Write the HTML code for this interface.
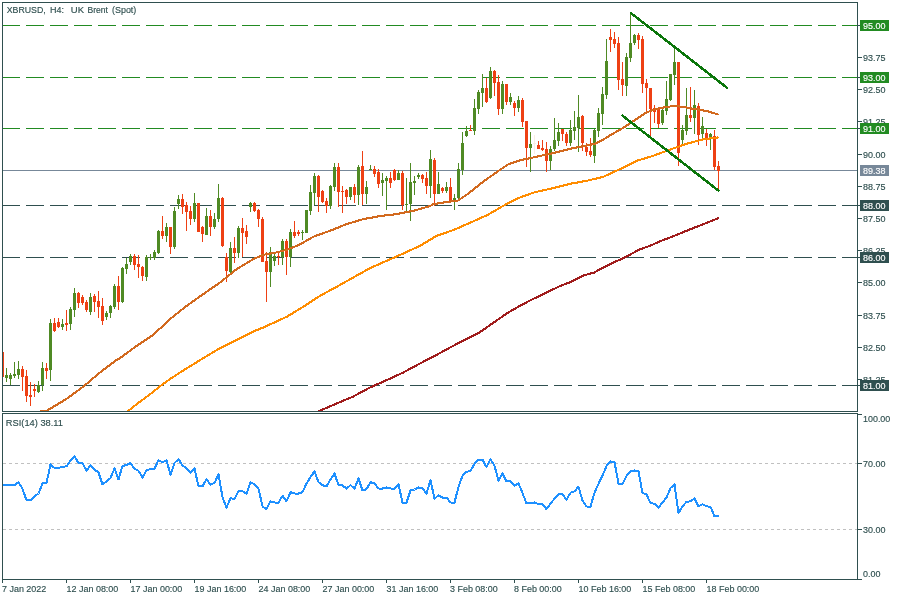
<!DOCTYPE html>
<html lang="en"><head><meta charset="utf-8"><title>XBRUSD, H4: UK Brent (Spot)</title>
<style>html,body{margin:0;padding:0;background:#fff;width:900px;height:600px;overflow:hidden}svg{display:block}text{font-family:"Liberation Sans",Arial,sans-serif;font-size:9.5px;fill:#2F4F4F;stroke:#2F4F4F;stroke-width:.15px}</style></head><body>
<svg width="900" height="600" viewBox="0 0 900 600">
<rect x="0" y="0" width="900" height="600" fill="#fff"/>
<defs><clipPath id="cm"><rect x="3" y="3" width="854" height="408"/></clipPath><clipPath id="cr"><rect x="3" y="414" width="854" height="165"/></clipPath></defs>
<g clip-path="url(#cm)">
<line x1="2" y1="25.5" x2="858" y2="25.5" stroke="#228B22" stroke-width="1" stroke-dasharray="17.5 6.5" shape-rendering="crispEdges"/>
<line x1="2" y1="77.5" x2="858" y2="77.5" stroke="#228B22" stroke-width="1" stroke-dasharray="17.5 6.5" shape-rendering="crispEdges"/>
<line x1="2" y1="128.5" x2="858" y2="128.5" stroke="#228B22" stroke-width="1" stroke-dasharray="17.5 6.5" shape-rendering="crispEdges"/>
<line x1="2" y1="205.5" x2="858" y2="205.5" stroke="#2F4F4F" stroke-width="1" stroke-dasharray="17.5 6.5" shape-rendering="crispEdges"/>
<line x1="2" y1="257.5" x2="858" y2="257.5" stroke="#2F4F4F" stroke-width="1" stroke-dasharray="17.5 6.5" shape-rendering="crispEdges"/>
<line x1="2" y1="385.5" x2="858" y2="385.5" stroke="#2F4F4F" stroke-width="1" stroke-dasharray="17.5 6.5" shape-rendering="crispEdges"/>
<line x1="2" y1="170.5" x2="858" y2="170.5" stroke="#778899" stroke-width="1" shape-rendering="crispEdges"/>
<g shape-rendering="crispEdges">
<rect x="2" y="352" width="1" height="25" fill="#EE4014"/>
<rect x="1" y="352" width="3" height="25" fill="#EE4014"/>
<rect x="6" y="368" width="1" height="14" fill="#4F8A24"/>
<rect x="5" y="375" width="3" height="3" fill="#4F8A24"/>
<rect x="10" y="373" width="1" height="12" fill="#4F8A24"/>
<rect x="9" y="375" width="3" height="4" fill="#4F8A24"/>
<rect x="14" y="362" width="1" height="16" fill="#4F8A24"/>
<rect x="13" y="374" width="3" height="2" fill="#4F8A24"/>
<rect x="18" y="361" width="1" height="18" fill="#4F8A24"/>
<rect x="17" y="369" width="3" height="6" fill="#4F8A24"/>
<rect x="22" y="366" width="1" height="25" fill="#EE4014"/>
<rect x="21" y="369" width="3" height="8" fill="#EE4014"/>
<rect x="26" y="370" width="1" height="32" fill="#EE4014"/>
<rect x="25" y="376" width="3" height="20" fill="#EE4014"/>
<rect x="30" y="382" width="1" height="24" fill="#EE4014"/>
<rect x="29" y="395" width="3" height="2" fill="#EE4014"/>
<rect x="34" y="384" width="1" height="13" fill="#EE4014"/>
<rect x="33" y="389" width="3" height="2" fill="#EE4014"/>
<rect x="38" y="381" width="1" height="12" fill="#4F8A24"/>
<rect x="37" y="385" width="3" height="7" fill="#4F8A24"/>
<rect x="42" y="362" width="1" height="29" fill="#4F8A24"/>
<rect x="41" y="368" width="3" height="17" fill="#4F8A24"/>
<rect x="46" y="363" width="1" height="16" fill="#EE4014"/>
<rect x="45" y="368" width="3" height="3" fill="#EE4014"/>
<rect x="50" y="319" width="1" height="62" fill="#4F8A24"/>
<rect x="49" y="323" width="3" height="47" fill="#4F8A24"/>
<rect x="54" y="318" width="1" height="14" fill="#EE4014"/>
<rect x="53" y="323" width="3" height="8" fill="#EE4014"/>
<rect x="58" y="318" width="1" height="10" fill="#EE4014"/>
<rect x="57" y="322" width="3" height="5" fill="#EE4014"/>
<rect x="62" y="319" width="1" height="11" fill="#4F8A24"/>
<rect x="61" y="324" width="3" height="3" fill="#4F8A24"/>
<rect x="66" y="310" width="1" height="21" fill="#EE4014"/>
<rect x="65" y="323" width="3" height="2" fill="#EE4014"/>
<rect x="70" y="307" width="1" height="23" fill="#4F8A24"/>
<rect x="69" y="309" width="3" height="15" fill="#4F8A24"/>
<rect x="74" y="288" width="1" height="29" fill="#4F8A24"/>
<rect x="73" y="293" width="3" height="17" fill="#4F8A24"/>
<rect x="78" y="292" width="1" height="16" fill="#EE4014"/>
<rect x="77" y="293" width="3" height="10" fill="#EE4014"/>
<rect x="82" y="295" width="1" height="10" fill="#EE4014"/>
<rect x="81" y="297" width="3" height="6" fill="#EE4014"/>
<rect x="86" y="300" width="1" height="12" fill="#EE4014"/>
<rect x="85" y="302" width="3" height="8" fill="#EE4014"/>
<rect x="90" y="293" width="1" height="22" fill="#4F8A24"/>
<rect x="89" y="297" width="3" height="15" fill="#4F8A24"/>
<rect x="94" y="294" width="1" height="18" fill="#EE4014"/>
<rect x="93" y="296" width="3" height="6" fill="#EE4014"/>
<rect x="98" y="291" width="1" height="27" fill="#EE4014"/>
<rect x="97" y="301" width="3" height="6" fill="#EE4014"/>
<rect x="102" y="298" width="1" height="27" fill="#EE4014"/>
<rect x="101" y="306" width="3" height="15" fill="#EE4014"/>
<rect x="106" y="311" width="1" height="9" fill="#4F8A24"/>
<rect x="105" y="313" width="3" height="4" fill="#4F8A24"/>
<rect x="110" y="305" width="1" height="13" fill="#4F8A24"/>
<rect x="109" y="306" width="3" height="7" fill="#4F8A24"/>
<rect x="114" y="284" width="1" height="25" fill="#4F8A24"/>
<rect x="113" y="286" width="3" height="21" fill="#4F8A24"/>
<rect x="118" y="276" width="1" height="34" fill="#EE4014"/>
<rect x="117" y="286" width="3" height="16" fill="#EE4014"/>
<rect x="122" y="267" width="1" height="36" fill="#4F8A24"/>
<rect x="121" y="268" width="3" height="34" fill="#4F8A24"/>
<rect x="126" y="258" width="1" height="16" fill="#4F8A24"/>
<rect x="125" y="264" width="3" height="5" fill="#4F8A24"/>
<rect x="130" y="254" width="1" height="11" fill="#4F8A24"/>
<rect x="129" y="256" width="3" height="6" fill="#4F8A24"/>
<rect x="134" y="254" width="1" height="16" fill="#EE4014"/>
<rect x="133" y="256" width="3" height="9" fill="#EE4014"/>
<rect x="138" y="255" width="1" height="23" fill="#EE4014"/>
<rect x="137" y="264" width="3" height="3" fill="#EE4014"/>
<rect x="142" y="266" width="1" height="15" fill="#EE4014"/>
<rect x="141" y="267" width="3" height="9" fill="#EE4014"/>
<rect x="146" y="255" width="1" height="26" fill="#4F8A24"/>
<rect x="145" y="257" width="3" height="20" fill="#4F8A24"/>
<rect x="150" y="254" width="1" height="6" fill="#4F8A24"/>
<rect x="149" y="257" width="3" height="1" fill="#4F8A24"/>
<rect x="154" y="250" width="1" height="10" fill="#4F8A24"/>
<rect x="153" y="252" width="3" height="6" fill="#4F8A24"/>
<rect x="158" y="230" width="1" height="24" fill="#4F8A24"/>
<rect x="157" y="231" width="3" height="22" fill="#4F8A24"/>
<rect x="162" y="216" width="1" height="23" fill="#EE4014"/>
<rect x="161" y="231" width="3" height="5" fill="#EE4014"/>
<rect x="166" y="223" width="1" height="19" fill="#4F8A24"/>
<rect x="165" y="227" width="3" height="9" fill="#4F8A24"/>
<rect x="170" y="227" width="1" height="27" fill="#EE4014"/>
<rect x="169" y="227" width="3" height="20" fill="#EE4014"/>
<rect x="174" y="207" width="1" height="42" fill="#4F8A24"/>
<rect x="173" y="211" width="3" height="36" fill="#4F8A24"/>
<rect x="178" y="195" width="1" height="14" fill="#4F8A24"/>
<rect x="177" y="199" width="3" height="5" fill="#4F8A24"/>
<rect x="182" y="194" width="1" height="20" fill="#EE4014"/>
<rect x="181" y="199" width="3" height="8" fill="#EE4014"/>
<rect x="186" y="202" width="1" height="29" fill="#EE4014"/>
<rect x="185" y="205" width="3" height="7" fill="#EE4014"/>
<rect x="190" y="206" width="1" height="19" fill="#EE4014"/>
<rect x="189" y="211" width="3" height="8" fill="#EE4014"/>
<rect x="194" y="193" width="1" height="29" fill="#4F8A24"/>
<rect x="193" y="203" width="3" height="16" fill="#4F8A24"/>
<rect x="198" y="203" width="1" height="29" fill="#EE4014"/>
<rect x="197" y="203" width="3" height="29" fill="#EE4014"/>
<rect x="202" y="226" width="1" height="16" fill="#EE4014"/>
<rect x="201" y="227" width="3" height="7" fill="#EE4014"/>
<rect x="206" y="208" width="1" height="27" fill="#4F8A24"/>
<rect x="205" y="216" width="3" height="19" fill="#4F8A24"/>
<rect x="210" y="210" width="1" height="26" fill="#EE4014"/>
<rect x="209" y="216" width="3" height="11" fill="#EE4014"/>
<rect x="214" y="213" width="1" height="16" fill="#4F8A24"/>
<rect x="213" y="219" width="3" height="8" fill="#4F8A24"/>
<rect x="218" y="184" width="1" height="38" fill="#4F8A24"/>
<rect x="217" y="198" width="3" height="21" fill="#4F8A24"/>
<rect x="222" y="197" width="1" height="50" fill="#EE4014"/>
<rect x="221" y="198" width="3" height="48" fill="#EE4014"/>
<rect x="226" y="253" width="1" height="29" fill="#EE4014"/>
<rect x="225" y="257" width="3" height="14" fill="#EE4014"/>
<rect x="230" y="242" width="1" height="31" fill="#4F8A24"/>
<rect x="229" y="248" width="3" height="24" fill="#4F8A24"/>
<rect x="234" y="237" width="1" height="26" fill="#EE4014"/>
<rect x="233" y="248" width="3" height="5" fill="#EE4014"/>
<rect x="238" y="226" width="1" height="32" fill="#4F8A24"/>
<rect x="237" y="228" width="3" height="25" fill="#4F8A24"/>
<rect x="242" y="218" width="1" height="39" fill="#EE4014"/>
<rect x="241" y="228" width="3" height="5" fill="#EE4014"/>
<rect x="246" y="225" width="1" height="19" fill="#EE4014"/>
<rect x="245" y="231" width="3" height="6" fill="#EE4014"/>
<rect x="250" y="202" width="1" height="10" fill="#4F8A24"/>
<rect x="249" y="203" width="3" height="4" fill="#4F8A24"/>
<rect x="254" y="202" width="1" height="10" fill="#EE4014"/>
<rect x="253" y="203" width="3" height="8" fill="#EE4014"/>
<rect x="258" y="209" width="1" height="18" fill="#EE4014"/>
<rect x="257" y="210" width="3" height="9" fill="#EE4014"/>
<rect x="262" y="217" width="1" height="45" fill="#EE4014"/>
<rect x="261" y="219" width="3" height="43" fill="#EE4014"/>
<rect x="266" y="252" width="1" height="50" fill="#EE4014"/>
<rect x="265" y="261" width="3" height="11" fill="#EE4014"/>
<rect x="270" y="247" width="1" height="40" fill="#4F8A24"/>
<rect x="269" y="252" width="3" height="20" fill="#4F8A24"/>
<rect x="274" y="252" width="1" height="14" fill="#4F8A24"/>
<rect x="273" y="256" width="3" height="5" fill="#4F8A24"/>
<rect x="278" y="252" width="1" height="13" fill="#EE4014"/>
<rect x="277" y="256" width="3" height="1" fill="#EE4014"/>
<rect x="282" y="239" width="1" height="26" fill="#4F8A24"/>
<rect x="281" y="241" width="3" height="16" fill="#4F8A24"/>
<rect x="286" y="239" width="1" height="36" fill="#EE4014"/>
<rect x="285" y="241" width="3" height="16" fill="#EE4014"/>
<rect x="290" y="229" width="1" height="38" fill="#4F8A24"/>
<rect x="289" y="232" width="3" height="25" fill="#4F8A24"/>
<rect x="294" y="221" width="1" height="17" fill="#EE4014"/>
<rect x="293" y="232" width="3" height="4" fill="#EE4014"/>
<rect x="298" y="230" width="1" height="6" fill="#EE4014"/>
<rect x="297" y="232" width="3" height="2" fill="#EE4014"/>
<rect x="302" y="230" width="1" height="10" fill="#4F8A24"/>
<rect x="301" y="232" width="3" height="1" fill="#4F8A24"/>
<rect x="306" y="210" width="1" height="23" fill="#4F8A24"/>
<rect x="305" y="210" width="3" height="23" fill="#4F8A24"/>
<rect x="310" y="185" width="1" height="30" fill="#4F8A24"/>
<rect x="309" y="192" width="3" height="19" fill="#4F8A24"/>
<rect x="314" y="173" width="1" height="32" fill="#4F8A24"/>
<rect x="313" y="176" width="3" height="17" fill="#4F8A24"/>
<rect x="318" y="175" width="1" height="37" fill="#EE4014"/>
<rect x="317" y="176" width="3" height="21" fill="#EE4014"/>
<rect x="322" y="190" width="1" height="13" fill="#EE4014"/>
<rect x="321" y="191" width="3" height="11" fill="#EE4014"/>
<rect x="326" y="198" width="1" height="15" fill="#EE4014"/>
<rect x="325" y="201" width="3" height="5" fill="#EE4014"/>
<rect x="330" y="185" width="1" height="24" fill="#4F8A24"/>
<rect x="329" y="186" width="3" height="20" fill="#4F8A24"/>
<rect x="334" y="163" width="1" height="28" fill="#4F8A24"/>
<rect x="333" y="167" width="3" height="20" fill="#4F8A24"/>
<rect x="338" y="163" width="1" height="44" fill="#EE4014"/>
<rect x="337" y="167" width="3" height="25" fill="#EE4014"/>
<rect x="342" y="186" width="1" height="27" fill="#EE4014"/>
<rect x="341" y="191" width="3" height="1" fill="#EE4014"/>
<rect x="346" y="189" width="1" height="15" fill="#EE4014"/>
<rect x="345" y="190" width="3" height="7" fill="#EE4014"/>
<rect x="350" y="187" width="1" height="13" fill="#4F8A24"/>
<rect x="349" y="187" width="3" height="10" fill="#4F8A24"/>
<rect x="354" y="184" width="1" height="19" fill="#EE4014"/>
<rect x="353" y="187" width="3" height="8" fill="#EE4014"/>
<rect x="358" y="165" width="1" height="40" fill="#4F8A24"/>
<rect x="357" y="167" width="3" height="28" fill="#4F8A24"/>
<rect x="362" y="151" width="1" height="54" fill="#EE4014"/>
<rect x="361" y="166" width="3" height="28" fill="#EE4014"/>
<rect x="366" y="181" width="1" height="23" fill="#4F8A24"/>
<rect x="365" y="187" width="3" height="7" fill="#4F8A24"/>
<rect x="370" y="165" width="1" height="5" fill="#4F8A24"/>
<rect x="369" y="169" width="3" height="1" fill="#4F8A24"/>
<rect x="374" y="166" width="1" height="11" fill="#EE4014"/>
<rect x="373" y="169" width="3" height="5" fill="#EE4014"/>
<rect x="378" y="169" width="1" height="19" fill="#EE4014"/>
<rect x="377" y="172" width="3" height="12" fill="#EE4014"/>
<rect x="382" y="173" width="1" height="23" fill="#4F8A24"/>
<rect x="381" y="180" width="3" height="3" fill="#4F8A24"/>
<rect x="386" y="176" width="1" height="34" fill="#4F8A24"/>
<rect x="385" y="178" width="3" height="3" fill="#4F8A24"/>
<rect x="390" y="172" width="1" height="16" fill="#EE4014"/>
<rect x="389" y="178" width="3" height="5" fill="#EE4014"/>
<rect x="394" y="169" width="1" height="12" fill="#EE4014"/>
<rect x="393" y="170" width="3" height="10" fill="#EE4014"/>
<rect x="398" y="170" width="1" height="10" fill="#4F8A24"/>
<rect x="397" y="173" width="3" height="7" fill="#4F8A24"/>
<rect x="402" y="171" width="1" height="39" fill="#EE4014"/>
<rect x="401" y="173" width="3" height="32" fill="#EE4014"/>
<rect x="406" y="178" width="1" height="33" fill="#4F8A24"/>
<rect x="405" y="204" width="3" height="1" fill="#4F8A24"/>
<rect x="410" y="163" width="1" height="58" fill="#4F8A24"/>
<rect x="409" y="182" width="3" height="22" fill="#4F8A24"/>
<rect x="414" y="176" width="1" height="19" fill="#4F8A24"/>
<rect x="413" y="181" width="3" height="2" fill="#4F8A24"/>
<rect x="418" y="173" width="1" height="6" fill="#4F8A24"/>
<rect x="417" y="175" width="3" height="2" fill="#4F8A24"/>
<rect x="422" y="174" width="1" height="9" fill="#EE4014"/>
<rect x="421" y="175" width="3" height="4" fill="#EE4014"/>
<rect x="426" y="172" width="1" height="22" fill="#EE4014"/>
<rect x="425" y="178" width="3" height="8" fill="#EE4014"/>
<rect x="430" y="150" width="1" height="48" fill="#4F8A24"/>
<rect x="429" y="159" width="3" height="27" fill="#4F8A24"/>
<rect x="434" y="158" width="1" height="48" fill="#EE4014"/>
<rect x="433" y="160" width="3" height="34" fill="#EE4014"/>
<rect x="438" y="172" width="1" height="22" fill="#4F8A24"/>
<rect x="437" y="184" width="3" height="10" fill="#4F8A24"/>
<rect x="442" y="187" width="1" height="6" fill="#EE4014"/>
<rect x="441" y="188" width="3" height="3" fill="#EE4014"/>
<rect x="446" y="182" width="1" height="11" fill="#4F8A24"/>
<rect x="445" y="187" width="3" height="4" fill="#4F8A24"/>
<rect x="450" y="178" width="1" height="25" fill="#EE4014"/>
<rect x="449" y="187" width="3" height="14" fill="#EE4014"/>
<rect x="454" y="194" width="1" height="16" fill="#4F8A24"/>
<rect x="453" y="198" width="3" height="3" fill="#4F8A24"/>
<rect x="458" y="163" width="1" height="36" fill="#4F8A24"/>
<rect x="457" y="169" width="3" height="29" fill="#4F8A24"/>
<rect x="462" y="132" width="1" height="43" fill="#4F8A24"/>
<rect x="461" y="143" width="3" height="27" fill="#4F8A24"/>
<rect x="466" y="126" width="1" height="11" fill="#4F8A24"/>
<rect x="465" y="131" width="3" height="5" fill="#4F8A24"/>
<rect x="470" y="125" width="1" height="6" fill="#EE4014"/>
<rect x="469" y="130" width="3" height="1" fill="#EE4014"/>
<rect x="474" y="99" width="1" height="36" fill="#4F8A24"/>
<rect x="473" y="108" width="3" height="23" fill="#4F8A24"/>
<rect x="478" y="90" width="1" height="24" fill="#4F8A24"/>
<rect x="477" y="92" width="3" height="17" fill="#4F8A24"/>
<rect x="482" y="74" width="1" height="33" fill="#4F8A24"/>
<rect x="481" y="88" width="3" height="5" fill="#4F8A24"/>
<rect x="486" y="78" width="1" height="25" fill="#EE4014"/>
<rect x="485" y="88" width="3" height="14" fill="#EE4014"/>
<rect x="490" y="67" width="1" height="32" fill="#4F8A24"/>
<rect x="489" y="71" width="3" height="27" fill="#4F8A24"/>
<rect x="494" y="70" width="1" height="26" fill="#EE4014"/>
<rect x="493" y="71" width="3" height="12" fill="#EE4014"/>
<rect x="498" y="75" width="1" height="40" fill="#EE4014"/>
<rect x="497" y="82" width="3" height="27" fill="#EE4014"/>
<rect x="502" y="81" width="1" height="33" fill="#4F8A24"/>
<rect x="501" y="84" width="3" height="25" fill="#4F8A24"/>
<rect x="506" y="84" width="1" height="21" fill="#EE4014"/>
<rect x="505" y="84" width="3" height="18" fill="#EE4014"/>
<rect x="510" y="93" width="1" height="12" fill="#4F8A24"/>
<rect x="509" y="97" width="3" height="5" fill="#4F8A24"/>
<rect x="514" y="101" width="1" height="15" fill="#EE4014"/>
<rect x="513" y="103" width="3" height="5" fill="#EE4014"/>
<rect x="518" y="96" width="1" height="16" fill="#4F8A24"/>
<rect x="517" y="100" width="3" height="8" fill="#4F8A24"/>
<rect x="522" y="98" width="1" height="29" fill="#EE4014"/>
<rect x="521" y="100" width="3" height="22" fill="#EE4014"/>
<rect x="526" y="121" width="1" height="46" fill="#EE4014"/>
<rect x="525" y="121" width="3" height="27" fill="#EE4014"/>
<rect x="530" y="132" width="1" height="40" fill="#4F8A24"/>
<rect x="529" y="144" width="3" height="4" fill="#4F8A24"/>
<rect x="534" y="135" width="1" height="19" fill="#FBEDE4"/>
<rect x="533" y="143" width="3" height="1" fill="#FBEDE4"/>
<rect x="538" y="141" width="1" height="8" fill="#EE4014"/>
<rect x="537" y="145" width="3" height="4" fill="#EE4014"/>
<rect x="542" y="140" width="1" height="11" fill="#EE4014"/>
<rect x="541" y="148" width="3" height="2" fill="#EE4014"/>
<rect x="546" y="142" width="1" height="30" fill="#EE4014"/>
<rect x="545" y="149" width="3" height="12" fill="#EE4014"/>
<rect x="550" y="146" width="1" height="24" fill="#4F8A24"/>
<rect x="549" y="149" width="3" height="12" fill="#4F8A24"/>
<rect x="554" y="118" width="1" height="33" fill="#4F8A24"/>
<rect x="553" y="140" width="3" height="9" fill="#4F8A24"/>
<rect x="558" y="123" width="1" height="23" fill="#4F8A24"/>
<rect x="557" y="132" width="3" height="9" fill="#4F8A24"/>
<rect x="562" y="129" width="1" height="12" fill="#EE4014"/>
<rect x="561" y="129" width="3" height="5" fill="#EE4014"/>
<rect x="566" y="132" width="1" height="14" fill="#EE4014"/>
<rect x="565" y="134" width="3" height="9" fill="#EE4014"/>
<rect x="570" y="120" width="1" height="26" fill="#4F8A24"/>
<rect x="569" y="130" width="3" height="13" fill="#4F8A24"/>
<rect x="574" y="111" width="1" height="29" fill="#4F8A24"/>
<rect x="573" y="127" width="3" height="4" fill="#4F8A24"/>
<rect x="578" y="95" width="1" height="57" fill="#4F8A24"/>
<rect x="577" y="117" width="3" height="11" fill="#4F8A24"/>
<rect x="582" y="115" width="1" height="36" fill="#EE4014"/>
<rect x="581" y="116" width="3" height="27" fill="#EE4014"/>
<rect x="586" y="143" width="1" height="13" fill="#EE4014"/>
<rect x="585" y="147" width="3" height="5" fill="#EE4014"/>
<rect x="590" y="138" width="1" height="19" fill="#EE4014"/>
<rect x="589" y="151" width="3" height="4" fill="#EE4014"/>
<rect x="594" y="129" width="1" height="34" fill="#4F8A24"/>
<rect x="593" y="130" width="3" height="26" fill="#4F8A24"/>
<rect x="598" y="108" width="1" height="29" fill="#4F8A24"/>
<rect x="597" y="113" width="3" height="18" fill="#4F8A24"/>
<rect x="602" y="87" width="1" height="38" fill="#4F8A24"/>
<rect x="601" y="94" width="3" height="20" fill="#4F8A24"/>
<rect x="606" y="39" width="1" height="60" fill="#4F8A24"/>
<rect x="605" y="61" width="3" height="34" fill="#4F8A24"/>
<rect x="610" y="29" width="1" height="23" fill="#EE4014"/>
<rect x="609" y="37" width="3" height="3" fill="#EE4014"/>
<rect x="614" y="32" width="1" height="16" fill="#EE4014"/>
<rect x="613" y="39" width="3" height="5" fill="#EE4014"/>
<rect x="618" y="37" width="1" height="53" fill="#EE4014"/>
<rect x="617" y="43" width="3" height="37" fill="#EE4014"/>
<rect x="622" y="62" width="1" height="34" fill="#EE4014"/>
<rect x="621" y="79" width="3" height="6" fill="#EE4014"/>
<rect x="626" y="53" width="1" height="43" fill="#4F8A24"/>
<rect x="625" y="57" width="3" height="29" fill="#4F8A24"/>
<rect x="630" y="14" width="1" height="48" fill="#4F8A24"/>
<rect x="629" y="43" width="3" height="15" fill="#4F8A24"/>
<rect x="634" y="34" width="1" height="11" fill="#4F8A24"/>
<rect x="633" y="35" width="3" height="8" fill="#4F8A24"/>
<rect x="638" y="33" width="1" height="16" fill="#EE4014"/>
<rect x="637" y="35" width="3" height="5" fill="#EE4014"/>
<rect x="642" y="36" width="1" height="57" fill="#EE4014"/>
<rect x="641" y="39" width="3" height="45" fill="#EE4014"/>
<rect x="646" y="79" width="1" height="32" fill="#EE4014"/>
<rect x="645" y="83" width="3" height="5" fill="#EE4014"/>
<rect x="650" y="88" width="1" height="48" fill="#EE4014"/>
<rect x="649" y="88" width="3" height="21" fill="#EE4014"/>
<rect x="654" y="105" width="1" height="18" fill="#EE4014"/>
<rect x="653" y="108" width="3" height="4" fill="#EE4014"/>
<rect x="658" y="109" width="1" height="19" fill="#EE4014"/>
<rect x="657" y="109" width="3" height="15" fill="#EE4014"/>
<rect x="662" y="109" width="1" height="16" fill="#4F8A24"/>
<rect x="661" y="110" width="3" height="13" fill="#4F8A24"/>
<rect x="666" y="81" width="1" height="34" fill="#4F8A24"/>
<rect x="665" y="99" width="3" height="12" fill="#4F8A24"/>
<rect x="670" y="74" width="1" height="27" fill="#4F8A24"/>
<rect x="669" y="74" width="3" height="26" fill="#4F8A24"/>
<rect x="674" y="48" width="1" height="37" fill="#4F8A24"/>
<rect x="673" y="62" width="3" height="13" fill="#4F8A24"/>
<rect x="678" y="62" width="1" height="104" fill="#EE4014"/>
<rect x="677" y="62" width="3" height="91" fill="#EE4014"/>
<rect x="682" y="125" width="1" height="19" fill="#4F8A24"/>
<rect x="681" y="130" width="3" height="10" fill="#4F8A24"/>
<rect x="686" y="88" width="1" height="47" fill="#4F8A24"/>
<rect x="685" y="115" width="3" height="16" fill="#4F8A24"/>
<rect x="690" y="87" width="1" height="35" fill="#EE4014"/>
<rect x="689" y="115" width="3" height="3" fill="#EE4014"/>
<rect x="694" y="90" width="1" height="44" fill="#4F8A24"/>
<rect x="693" y="105" width="3" height="13" fill="#4F8A24"/>
<rect x="698" y="103" width="1" height="42" fill="#EE4014"/>
<rect x="697" y="106" width="3" height="29" fill="#EE4014"/>
<rect x="702" y="117" width="1" height="21" fill="#4F8A24"/>
<rect x="701" y="126" width="3" height="8" fill="#4F8A24"/>
<rect x="706" y="129" width="1" height="17" fill="#EE4014"/>
<rect x="705" y="133" width="3" height="5" fill="#EE4014"/>
<rect x="710" y="133" width="1" height="17" fill="#4F8A24"/>
<rect x="709" y="134" width="3" height="3" fill="#4F8A24"/>
<rect x="714" y="130" width="1" height="40" fill="#EE4014"/>
<rect x="713" y="136" width="3" height="31" fill="#EE4014"/>
<rect x="718" y="161" width="1" height="29" fill="#EE4014"/>
<rect x="717" y="166" width="3" height="5" fill="#EE4014"/>
</g>
<polyline fill="none" stroke="#A01C1C" stroke-width="2.1" stroke-linejoin="round" stroke-linecap="round" shape-rendering="crispEdges" points="315.0,412.8 336.7,403.5 353.3,396.5 370.0,387.5 386.7,380.1 403.3,372.5 420.0,363.5 436.7,354.8 453.3,345.8 470.0,337.3 480.0,332.1 506.7,313.5 520.0,305.8 533.3,298.8 540.0,295.8 560.0,286.0 570.0,282.3 583.0,275.6 594.0,272.6 599.0,269.8 615.0,261.8 623.0,258.3 640.0,249.3 650.0,245.8 660.0,241.3 666.7,238.8 693.3,228.1 718.0,218.3"/>
<polyline fill="none" stroke="#FF8C00" stroke-width="2.1" stroke-linejoin="round" stroke-linecap="round" shape-rendering="crispEdges" points="126.0,412.8 136.7,404.1 150.0,394.3 160.0,386.3 170.0,379.1 180.0,372.5 203.3,358.1 220.0,348.1 236.7,340.1 253.3,331.5 263.3,327.5 286.7,316.8 303.3,306.8 320.0,295.8 336.7,286.8 353.3,277.5 370.0,268.1 386.7,260.8 403.3,253.5 420.0,245.8 436.7,235.8 453.3,230.1 470.0,222.8 486.7,215.3 495.0,210.8 503.3,205.8 516.7,198.8 520.0,197.5 533.0,192.8 536.7,191.8 550.0,188.8 553.3,188.1 570.0,183.8 586.7,180.8 603.3,176.8 620.0,169.1 636.7,160.8 653.3,155.8 670.0,149.6 686.7,143.8 703.3,139.3 718.0,137.5"/>
<polyline fill="none" stroke="#D2691E" stroke-width="2.1" stroke-linejoin="round" stroke-linecap="round" shape-rendering="crispEdges" points="38.0,411.8 46.7,410.8 66.7,398.8 83.3,386.6 100.0,372.5 116.7,359.8 120.0,358.1 136.7,345.8 153.3,334.8 170.0,319.1 186.7,305.8 203.3,294.1 220.0,282.5 236.7,269.1 253.3,259.1 263.3,254.8 275.0,252.8 286.7,249.8 296.7,245.8 303.3,242.5 313.3,236.8 320.0,234.3 330.0,230.8 346.7,224.1 363.3,219.1 380.0,216.1 396.7,214.1 413.3,210.8 430.0,206.1 433.0,204.3 445.0,202.3 458.0,200.5 466.7,194.8 483.3,181.6 500.0,169.8 508.0,164.5 520.0,160.3 533.0,157.5 550.0,153.8 570.0,148.8 586.7,145.5 595.0,143.8 603.0,139.8 611.7,134.3 620.0,129.8 628.0,124.8 636.7,118.8 645.0,113.3 653.0,109.8 661.7,107.8 670.0,106.5 675.0,106.1 683.0,106.8 691.7,108.5 700.0,109.8 708.0,111.3 718.0,114.5"/>
<line x1="630.8" y1="13" x2="727.3" y2="88" stroke="#0B760B" stroke-width="2.5" stroke-linecap="round" shape-rendering="crispEdges"/>
<line x1="622.5" y1="115.7" x2="718.3" y2="190.5" stroke="#0B760B" stroke-width="2.5" stroke-linecap="round" shape-rendering="crispEdges"/>
</g>
<g clip-path="url(#cr)">
<line x1="3" y1="463.5" x2="858" y2="463.5" stroke="#C0C0C0" stroke-width="1" stroke-dasharray="3 3" shape-rendering="crispEdges"/>
<line x1="3" y1="529.5" x2="858" y2="529.5" stroke="#C0C0C0" stroke-width="1" stroke-dasharray="3 3" shape-rendering="crispEdges"/>
<polyline fill="none" stroke="#1E90FF" stroke-width="2" stroke-linejoin="round" stroke-linecap="round" shape-rendering="crispEdges" points="2.5,485.2 6.5,485.2 10.5,485.2 14.5,485.2 18.5,482.2 22.5,488.8 26.5,500.2 30.5,500.2 34.5,496.3 38.5,493.5 42.5,483.5 46.5,483.0 50.5,464.5 54.5,468.0 58.5,468.0 62.5,466.8 66.5,466.3 70.5,460.5 74.5,456.3 78.5,463.0 82.5,463.0 86.5,470.5 90.5,465.5 94.5,469.5 98.5,472.5 102.5,484.5 106.5,481.3 110.5,478.0 114.5,468.5 118.5,479.5 122.5,465.8 126.5,465.2 130.5,463.0 134.5,468.8 138.5,470.8 142.5,477.5 146.5,470.2 150.5,469.2 154.5,468.5 158.5,460.2 162.5,462.2 166.5,460.5 170.5,474.5 174.5,463.0 178.5,459.2 182.5,465.5 186.5,468.0 190.5,472.5 194.5,468.5 198.5,486.3 202.5,486.3 206.5,479.2 210.5,484.5 214.5,483.0 218.5,474.5 222.5,497.2 226.5,507.5 230.5,498.0 234.5,499.2 238.5,491.3 242.5,491.3 246.5,493.8 250.5,482.2 254.5,484.2 258.5,488.8 262.5,506.3 266.5,509.2 270.5,501.3 274.5,502.5 278.5,502.5 282.5,495.8 286.5,501.3 290.5,492.2 294.5,493.5 298.5,493.5 302.5,492.2 306.5,483.5 310.5,477.2 314.5,471.3 318.5,482.2 322.5,485.2 326.5,486.3 330.5,479.5 334.5,473.5 338.5,485.2 342.5,485.5 346.5,488.5 350.5,485.2 354.5,488.5 358.5,478.5 362.5,490.5 366.5,489.2 370.5,482.2 374.5,483.5 378.5,488.5 382.5,488.5 386.5,487.5 390.5,488.5 394.5,488.5 398.5,484.5 402.5,502.5 406.5,502.5 410.5,490.5 414.5,489.5 418.5,487.5 422.5,488.5 426.5,493.5 430.5,480.2 434.5,498.8 438.5,495.2 442.5,497.5 446.5,497.5 450.5,502.5 454.5,502.5 458.5,486.8 462.5,475.8 466.5,471.8 470.5,470.8 474.5,463.8 478.5,459.5 482.5,459.5 486.5,467.2 490.5,459.2 494.5,465.8 498.5,480.5 502.5,473.5 506.5,481.3 510.5,481.3 514.5,485.5 518.5,483.5 522.5,493.0 526.5,503.5 530.5,503.0 534.5,502.5 538.5,504.2 542.5,504.2 546.5,509.2 550.5,503.5 554.5,498.8 558.5,494.2 562.5,494.2 566.5,499.5 570.5,492.8 574.5,491.3 578.5,486.7 582.5,500.5 586.5,506.5 590.5,506.5 594.5,492.8 598.5,483.8 602.5,475.5 606.5,466.0 610.5,461.5 614.5,462.2 618.5,483.5 622.5,484.3 626.5,475.8 630.5,471.3 634.5,470.5 638.5,471.3 642.5,493.0 646.5,494.5 650.5,503.0 654.5,503.8 658.5,507.5 662.5,502.5 666.5,497.5 670.5,488.0 674.5,484.5 678.5,513.0 682.5,506.3 686.5,501.8 690.5,501.3 694.5,498.5 698.5,506.3 702.5,504.2 706.5,506.3 710.5,506.8 714.5,516.3 718.5,516.3"/>
</g>
<g shape-rendering="crispEdges" fill="#2F4F4F">
<rect x="2" y="2" width="856" height="1"/>
<rect x="2" y="2" width="1" height="410"/><rect x="2" y="413" width="1" height="167"/>
<rect x="857" y="2" width="1" height="410"/><rect x="857" y="413" width="1" height="167"/>
<rect x="2" y="411" width="856" height="1"/>
<rect x="2" y="413" width="856" height="1"/>
<rect x="2" y="579" width="856" height="1"/>
<rect x="2" y="580" width="1" height="3"/>
<rect x="66" y="580" width="1" height="3"/>
<rect x="130" y="580" width="1" height="3"/>
<rect x="194" y="580" width="1" height="3"/>
<rect x="258" y="580" width="1" height="3"/>
<rect x="322" y="580" width="1" height="3"/>
<rect x="386" y="580" width="1" height="3"/>
<rect x="450" y="580" width="1" height="3"/>
<rect x="514" y="580" width="1" height="3"/>
<rect x="578" y="580" width="1" height="3"/>
<rect x="642" y="580" width="1" height="3"/>
<rect x="706" y="580" width="1" height="3"/>
<rect x="858" y="57" width="4" height="1"/>
<rect x="858" y="89" width="4" height="1"/>
<rect x="858" y="121" width="4" height="1"/>
<rect x="858" y="154" width="4" height="1"/>
<rect x="858" y="186" width="4" height="1"/>
<rect x="858" y="218" width="4" height="1"/>
<rect x="858" y="250" width="4" height="1"/>
<rect x="858" y="282" width="4" height="1"/>
<rect x="858" y="315" width="4" height="1"/>
<rect x="858" y="347" width="4" height="1"/>
<rect x="858" y="379" width="4" height="1"/>
<rect x="858" y="414" width="4" height="1"/>
<rect x="858" y="463" width="4" height="1"/>
<rect x="858" y="529" width="4" height="1"/>
<rect x="858" y="579" width="4" height="1"/>
<rect x="858" y="25" width="3" height="1" fill="#2F4F4F"/>
<rect x="858" y="77" width="3" height="1" fill="#2F4F4F"/>
<rect x="858" y="128" width="3" height="1" fill="#2F4F4F"/>
<rect x="858" y="205" width="3" height="1" fill="#2F4F4F"/>
<rect x="858" y="257" width="3" height="1" fill="#2F4F4F"/>
<rect x="858" y="385" width="3" height="1" fill="#2F4F4F"/>
</g>
<text x="863" y="61" textLength="22.5" lengthAdjust="spacingAndGlyphs">93.75</text>
<text x="863" y="93" textLength="22.5" lengthAdjust="spacingAndGlyphs">92.50</text>
<text x="863" y="125" textLength="22.5" lengthAdjust="spacingAndGlyphs">91.25</text>
<text x="863" y="158" textLength="22.5" lengthAdjust="spacingAndGlyphs">90.00</text>
<text x="863" y="190" textLength="22.5" lengthAdjust="spacingAndGlyphs">88.75</text>
<text x="863" y="222" textLength="22.5" lengthAdjust="spacingAndGlyphs">87.50</text>
<text x="863" y="254" textLength="22.5" lengthAdjust="spacingAndGlyphs">86.25</text>
<text x="863" y="286" textLength="22.5" lengthAdjust="spacingAndGlyphs">85.00</text>
<text x="863" y="319" textLength="22.5" lengthAdjust="spacingAndGlyphs">83.75</text>
<text x="863" y="351" textLength="22.5" lengthAdjust="spacingAndGlyphs">82.50</text>
<text x="863" y="383" textLength="22.5" lengthAdjust="spacingAndGlyphs">81.25</text>
<text x="863" y="422" textLength="27.3" lengthAdjust="spacingAndGlyphs">100.00</text>
<text x="863" y="467" textLength="22.4" lengthAdjust="spacingAndGlyphs">70.00</text>
<text x="863" y="533" textLength="22.4" lengthAdjust="spacingAndGlyphs">30.00</text>
<text x="863" y="577" textLength="17.4" lengthAdjust="spacingAndGlyphs">0.00</text>
<rect x="860" y="20" width="29" height="11" fill="#228B22" shape-rendering="crispEdges"/>
<text x="863" y="29" textLength="22.5" lengthAdjust="spacingAndGlyphs" style="fill:#fff;stroke:#fff">95.00</text>
<rect x="860" y="72" width="29" height="11" fill="#228B22" shape-rendering="crispEdges"/>
<text x="863" y="81" textLength="22.5" lengthAdjust="spacingAndGlyphs" style="fill:#fff;stroke:#fff">93.00</text>
<rect x="860" y="123" width="29" height="11" fill="#228B22" shape-rendering="crispEdges"/>
<text x="863" y="132" textLength="22.5" lengthAdjust="spacingAndGlyphs" style="fill:#fff;stroke:#fff">91.00</text>
<rect x="860" y="200" width="29" height="11" fill="#2F4F4F" shape-rendering="crispEdges"/>
<text x="863" y="209" textLength="22.5" lengthAdjust="spacingAndGlyphs" style="fill:#fff;stroke:#fff">88.00</text>
<rect x="860" y="252" width="29" height="11" fill="#2F4F4F" shape-rendering="crispEdges"/>
<text x="863" y="261" textLength="22.5" lengthAdjust="spacingAndGlyphs" style="fill:#fff;stroke:#fff">86.00</text>
<rect x="860" y="380" width="29" height="11" fill="#2F4F4F" shape-rendering="crispEdges"/>
<text x="863" y="389" textLength="22.5" lengthAdjust="spacingAndGlyphs" style="fill:#fff;stroke:#fff">81.00</text>
<rect x="860" y="165" width="29" height="11" fill="#778899" shape-rendering="crispEdges"/>
<text x="863" y="174" textLength="22.5" lengthAdjust="spacingAndGlyphs" style="fill:#fff;stroke:#fff">89.38</text>
<text y="13"><tspan x="6.7" textLength="39" lengthAdjust="spacingAndGlyphs">XBRUSD,</tspan> <tspan x="50" textLength="14" lengthAdjust="spacingAndGlyphs">H4:</tspan> <tspan x="70.8" textLength="13.2" lengthAdjust="spacingAndGlyphs">UK</tspan> <tspan x="87.5" textLength="20.5" lengthAdjust="spacingAndGlyphs">Brent</tspan> <tspan x="112" textLength="24.3" lengthAdjust="spacingAndGlyphs">(Spot)</tspan></text>
<text x="5.8" y="426" textLength="57.2" lengthAdjust="spacingAndGlyphs">RSI(14) 38.11</text>
<text x="2" y="592" textLength="44.2" lengthAdjust="spacingAndGlyphs">7 Jan 2022</text>
<text x="66.6" y="592" textLength="51.7" lengthAdjust="spacingAndGlyphs">12 Jan 08:00</text>
<text x="130.6" y="592" textLength="51.7" lengthAdjust="spacingAndGlyphs">17 Jan 00:00</text>
<text x="194.6" y="592" textLength="51.7" lengthAdjust="spacingAndGlyphs">19 Jan 16:00</text>
<text x="258.6" y="592" textLength="51.7" lengthAdjust="spacingAndGlyphs">24 Jan 08:00</text>
<text x="322.6" y="592" textLength="51.7" lengthAdjust="spacingAndGlyphs">27 Jan 00:00</text>
<text x="386.6" y="592" textLength="51.7" lengthAdjust="spacingAndGlyphs">31 Jan 16:00</text>
<text x="450" y="592" textLength="47.7" lengthAdjust="spacingAndGlyphs">3 Feb 08:00</text>
<text x="514" y="592" textLength="47.7" lengthAdjust="spacingAndGlyphs">8 Feb 00:00</text>
<text x="578.6" y="592" textLength="52.7" lengthAdjust="spacingAndGlyphs">10 Feb 16:00</text>
<text x="642.6" y="592" textLength="52.7" lengthAdjust="spacingAndGlyphs">15 Feb 08:00</text>
<text x="706.6" y="592" textLength="52.7" lengthAdjust="spacingAndGlyphs">18 Feb 00:00</text>
</svg></body></html>
